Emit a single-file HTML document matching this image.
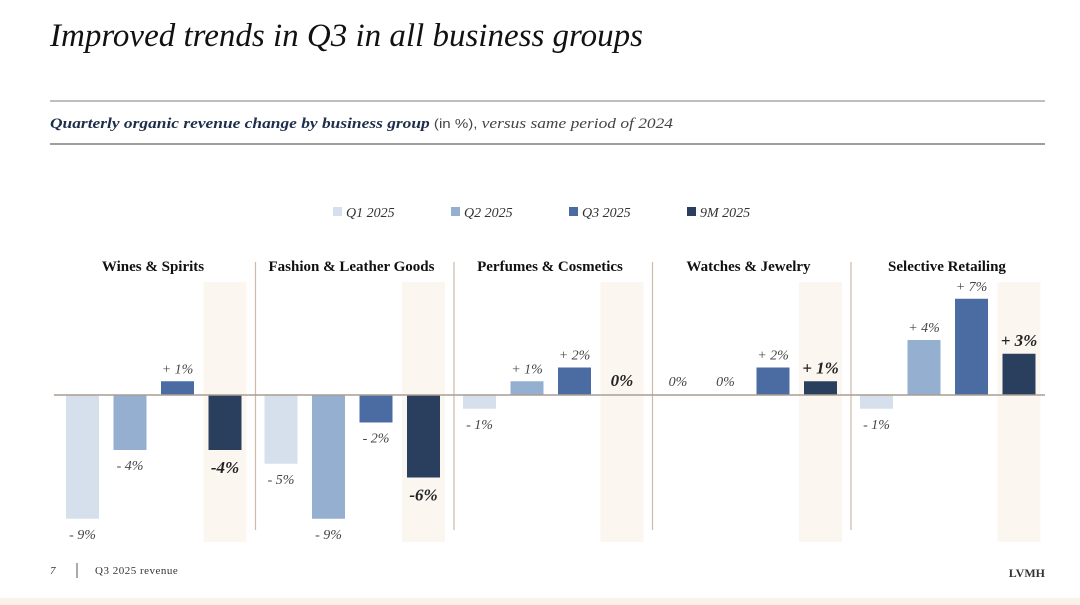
<!DOCTYPE html>
<html><head><meta charset="utf-8"><style>
html,body{margin:0;padding:0;background:#fff;}
svg{display:block;font-family:"Liberation Serif",serif;}
</style></head><body>
<svg id="chart" width="1080" height="605" viewBox="0 0 1080 605">
<text x="50" y="46" font-size="33" font-style="italic" fill="#111" textLength="593" lengthAdjust="spacingAndGlyphs">Improved trends in Q3 in all business groups</text>
<line x1="50" y1="101" x2="1045" y2="101" stroke="#999" stroke-width="1.2"/>
<text x="50" y="128" font-size="15" fill="#1f2f4a" textLength="623" lengthAdjust="spacingAndGlyphs"><tspan font-weight="bold" font-style="italic">Quarterly organic revenue change by business group</tspan><tspan font-family="Liberation Sans" font-size="13" fill="#444"> (in %), </tspan><tspan font-style="italic" fill="#444">versus same period of 2024</tspan></text>
<line x1="50" y1="144" x2="1045" y2="144" stroke="#666" stroke-width="1.2"/>
<g id="legend"></g>
<g id="bands"></g>
<g id="plot"></g>
<text x="50" y="574" font-size="11" font-style="italic" fill="#333">7</text>
<line x1="77" y1="563" x2="77" y2="578" stroke="#555"/>
<text x="95" y="574" font-size="11" fill="#333" letter-spacing="0.5">Q3 2025 revenue</text>
<text x="1045" y="577" font-size="12" fill="#333" text-anchor="end" font-weight="bold">LVMH</text>
<rect x="0" y="598" width="1080" height="7" fill="#faf1e8"/>
</svg>
<script>
const groups = ["Wines & Spirits","Fashion & Leather Goods","Perfumes & Cosmetics","Watches & Jewelry","Selective Retailing"];
const series = ["Q1 2025","Q2 2025","Q3 2025","9M 2025"];
const q1 = [-9,-5,-1,0,-1];
const q2 = [-4,-9,1,0,4];
const q3 = [1,-2,2,2,7];
const m9 = [-4,-6,0,1,3];
const colors = ["#d6e0ec","#95afd1","#4a6ca3","#2a3f5e"];
const NS="http://www.w3.org/2000/svg";
const zeroY=395, perPt=13.75, gx0=56, gStep=198.5, bx0=10, bStep=47.5, bw=33;
const y = v => zeroY - v*perPt;
const gX = g => gx0 + g*gStep;
const bX = (g,s) => gX(g) + bx0 + s*bStep;
function mk(tag, attrs, parent){const e=document.createElementNS(NS,tag);for(const k in attrs)e.setAttribute(k,attrs[k]);parent.appendChild(e);return e;}
const plot=document.getElementById('plot'), bands=document.getElementById('bands'), legend=document.getElementById('legend');
const lx=[333,451,569,687];
series.forEach((s,i)=>{
  const r=mk('rect',{x:lx[i],y:207,width:9,height:9,fill:colors[i]},legend);
  
  
  const t=mk('text',{x:lx[i]+13,y:217,'font-size':14,'font-style':'italic',fill:'#333'},legend);
  t.textContent=s;
  
  
});
const vals=[q1,q2,q3,m9];
groups.forEach((gname,g)=>{
  const band=mk('rect',{x:bX(g,3)-5,y:282,width:bw+10,height:260,fill:'#fcf6f1'},bands);
  
  
  if(g>0){
    const d=mk('line',{x1:gX(g)+1,y1:262,x2:gX(g)+1,y2:530,stroke:'#cbbba8','stroke-width':1.2},plot);
    
    
  }
  const t=mk('text',{x:gX(g)+97,y:271,'font-size':15,'font-weight':'bold','text-anchor':'middle',fill:'#111'},plot);
  t.textContent=gname;
  
  
  for(let s=0;s<4;s++){
    const v=vals[s][g];
    const x=bX(g,s);
    if(v!==0){
      const r=mk('rect',{x:x,y:Math.min(y(v),zeroY),width:bw,height:Math.abs(y(v)-zeroY),fill:colors[s]},plot);
      
      
    }
    const bold=s===3;
    const txt = v===0?'0%':(v>0?'+ '+v+'%':(bold?'-'+(-v)+'%':'- '+(-v)+'%'));
    let ty;
    if(v>0) ty=y(v)-8; else if(v<0) ty=y(v)+(bold?23:20); else ty=zeroY-9;
    const lb=mk('text',{x:x+bw/2,y:ty,'font-size':bold?17:14,'font-style':'italic','font-weight':bold?'bold':'normal','text-anchor':'middle',fill:bold?'#222':'#444'},plot);
    lb.textContent=txt;
    
    
  }
});
const z=mk('line',{x1:54,y1:zeroY,x2:1045,y2:zeroY,stroke:'#a89e94','stroke-width':1.5},plot);


</script>
</body></html>
